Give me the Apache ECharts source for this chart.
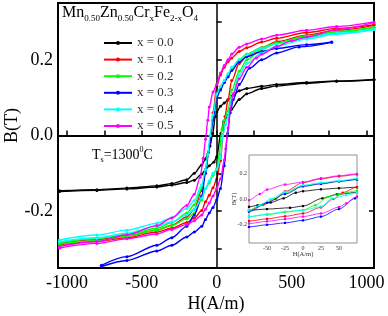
<!DOCTYPE html>
<html><head><meta charset="utf-8">
<script src="https://cdn.jsdelivr.net/npm/echarts@6/dist/echarts.min.js"></script>
<style>html,body{margin:0;padding:0;background:#fff}#c{width:388px;height:316px}</style>
</head><body><div id="c"></div>
<script>
// ---- Data (H in A/m, B in T) ----
const names = ['x = 0.0','x = 0.1','x = 0.2','x = 0.3','x = 0.4','x = 0.5'];
const colors = ['#000000','#ff0000','#00ff00','#0000ff','#00ffff','#ff00ff'];

// x = 0.0 (black)
const up00 = [[-1050,-0.146],[-800,-0.143],[-600,-0.139],[-400,-0.133],[-300,-0.127],[-200,-0.117],[-150,-0.1],[-100,-0.078],[-75,-0.062],[-63,-0.05],[-45,-0.028],[-27,0.005],[-10,0.05],[0,0.062],[25,0.077],[50,0.086],[75,0.094],[100,0.103],[150,0.118],[200,0.124],[300,0.13],[400,0.135],[600,0.14],[800,0.144],[1050,0.148]];
const lo00 = [[-1050,-0.148],[-800,-0.145],[-600,-0.141],[-400,-0.136],[-300,-0.131],[-200,-0.124],[-150,-0.118],[-100,-0.102],[-75,-0.09],[-50,-0.08],[-18,-0.07],[0,-0.056],[27,0.005],[47,0.037],[75,0.052],[100,0.07],[150,0.095],[200,0.11],[300,0.124],[400,0.131],[600,0.138],[800,0.143],[1050,0.147]];
// x = 0.1 (red)
const up01 = [[-1050,-0.285],[-800,-0.275],[-600,-0.265],[-400,-0.25],[-300,-0.237],[-200,-0.215],[-150,-0.195],[-100,-0.145],[-75,-0.09],[-55,-0.045],[-38,0.0],[-25,0.06],[0,0.13],[25,0.16],[50,0.18],[75,0.195],[100,0.205],[150,0.222],[200,0.232],[300,0.247],[400,0.257],[600,0.272],[800,0.283],[1050,0.293]];
const lo01 = [[-1050,-0.289],[-800,-0.28],[-600,-0.27],[-400,-0.255],[-300,-0.245],[-200,-0.23],[-150,-0.218],[-100,-0.198],[-75,-0.175],[-50,-0.158],[-25,-0.138],[0,-0.115],[25,-0.067],[42,0.0],[55,0.05],[75,0.095],[100,0.145],[150,0.19],[200,0.21],[300,0.232],[400,0.248],[600,0.265],[800,0.278],[1050,0.291]];
// x = 0.2 (green)
const up02 = [[-1050,-0.283],[-800,-0.272],[-600,-0.262],[-400,-0.245],[-300,-0.23],[-200,-0.205],[-150,-0.183],[-100,-0.14],[-75,-0.09],[-60,-0.05],[-40,0.0],[-25,0.05],[0,0.105],[25,0.125],[50,0.14],[75,0.155],[100,0.175],[150,0.2],[200,0.215],[300,0.232],[400,0.245],[600,0.263],[800,0.275],[1050,0.286]];
const lo02 = [[-1050,-0.287],[-800,-0.278],[-600,-0.266],[-400,-0.25],[-300,-0.238],[-200,-0.22],[-150,-0.205],[-100,-0.17],[-75,-0.14],[-50,-0.125],[-25,-0.105],[0,-0.088],[17,-0.05],[34,0.015],[50,0.04],[75,0.065],[100,0.12],[150,0.17],[200,0.2],[300,0.228],[400,0.243],[600,0.262],[800,0.273],[1050,0.285]];
// x = 0.3 (blue)
const up03 = [[-770,-0.343],[-600,-0.32],[-400,-0.29],[-300,-0.27],[-200,-0.24],[-150,-0.21],[-100,-0.16],[-75,-0.1],[-50,-0.03],[-25,0.04],[0,0.1],[25,0.12],[50,0.14],[75,0.155],[100,0.172],[150,0.195],[200,0.208],[300,0.222],[400,0.23],[600,0.24],[768,0.247]];
const lo03 = [[-770,-0.346],[-600,-0.33],[-400,-0.305],[-300,-0.29],[-200,-0.268],[-150,-0.255],[-100,-0.24],[-75,-0.222],[-50,-0.205],[-25,-0.19],[0,-0.17],[25,-0.14],[50,-0.08],[72,0.005],[90,0.06],[110,0.095],[150,0.135],[220,0.178],[300,0.2],[400,0.218],[550,0.234],[768,0.246]];
// x = 0.4 (cyan)
const up04 = [[-1050,-0.276],[-800,-0.263],[-600,-0.25],[-400,-0.232],[-300,-0.217],[-200,-0.193],[-150,-0.172],[-100,-0.13],[-75,-0.09],[-60,-0.05],[-45,0.0],[-25,0.055],[0,0.11],[25,0.13],[50,0.145],[75,0.163],[100,0.18],[150,0.2],[200,0.213],[300,0.23],[400,0.242],[600,0.258],[800,0.27],[1050,0.28]];
const lo04 = [[-1050,-0.28],[-800,-0.27],[-600,-0.258],[-400,-0.24],[-300,-0.228],[-200,-0.21],[-150,-0.195],[-100,-0.165],[-75,-0.14],[-50,-0.12],[-25,-0.1],[0,-0.09],[25,-0.06],[40,0.0],[60,0.03],[75,0.05],[100,0.1],[150,0.16],[200,0.19],[300,0.218],[400,0.236],[600,0.255],[800,0.268],[1050,0.28]];
// x = 0.5 (magenta)
const up05 = [[-1050,-0.293],[-800,-0.28],[-600,-0.262],[-400,-0.238],[-300,-0.218],[-200,-0.185],[-150,-0.155],[-110,-0.11],[-90,-0.06],[-75,-0.01],[-60,0.04],[-50,0.075],[-25,0.115],[0,0.135],[25,0.165],[50,0.185],[75,0.2],[100,0.215],[150,0.233],[200,0.242],[300,0.255],[400,0.265],[600,0.278],[800,0.288],[1050,0.3]];
const lo05 = [[-1050,-0.297],[-800,-0.285],[-600,-0.273],[-400,-0.26],[-300,-0.248],[-200,-0.235],[-150,-0.225],[-100,-0.21],[-75,-0.195],[-50,-0.178],[-25,-0.16],[0,-0.14],[25,-0.115],[50,-0.065],[60,-0.035],[75,0.02],[90,0.07],[110,0.11],[150,0.15],[200,0.18],[265,0.205],[300,0.215],[400,0.235],[500,0.25],[600,0.26],[800,0.28],[1050,0.298]];

const loops = [[up00,lo00],[up01,lo01],[up02,lo02],[up03,lo03],[up04,lo04],[up05,lo05]];

// tick values
const mainXTicks = [-1000,-750,-500,-250,0,250,500,750,1000];
const mainXLabels = [-1000,-500,0,500,1000];
const mainYTicks = [-0.3,-0.2,-0.1,0,0.1,0.2,0.3];
const mainYLabels = [-0.2,0,0.2];
const insetXLabels = [-50,-25,0,25,50];
const insetYTicks = [-0.3,-0.2,-0.1,0,0.1,0.2,0.3];
const insetYLabels = [-0.2,0,0.2];

const FONT = 'Liberation Serif';
const chart = echarts.init(document.getElementById('c'), null, {renderer:'canvas'});

const series = [];
loops.forEach((lp, i) => {
  lp.forEach((br, j) => {
    const s = {
      type:'line', name:names[i], xAxisIndex:0, yAxisIndex:0, data:br,
      smooth:0.3, smoothMonotone:'x', symbol:'circle', symbolSize:3,
      lineStyle:{width:1.4, color:colors[i]}, itemStyle:{color:colors[i]},
      z: 3 + i, animation:false, silent:true
    };
    if (i === 0 && j === 0) {
      s.markLine = {silent:true, symbol:['none','none'], label:{show:false}, animation:false,
        data:[{yAxis:0, lineStyle:{color:'#000', width:2, type:'solid'}},
              {xAxis:0, lineStyle:{color:'#000', width:1.5, type:'solid'}}]};
    }
    series.push(s);
  });
});
loops.forEach((lp, i) => {
  lp.forEach((br, j) => {
    const s = {
      type:'line', name:names[i], xAxisIndex:1, yAxisIndex:2, data:br,
      smooth:0.3, smoothMonotone:'x', symbol:'rect', symbolSize:2.2, clip:true,
      lineStyle:{width:0.8, color:colors[i]}, itemStyle:{color:colors[i]},
      z: 13 + i, animation:false, silent:true
    };
    if (i === 0 && j === 0) {
      s.markLine = {silent:true, symbol:['none','none'], label:{show:false}, animation:false,
        data:[{yAxis:0, lineStyle:{color:'#777', width:0.8, type:'solid'}},
              {xAxis:0, lineStyle:{color:'#777', width:0.8, type:'solid'}}]};
    }
    series.push(s);
  });
});

const option = {
  backgroundColor:'#fff',
  animation:false,
  title:[
    {left:62, top:3, padding:0,
     text:'{m|Mn}{s|0.50}{m|Zn}{s|0.50}{m|Cr}{s|x}{m|Fe}{s|2-x}{m|O}{s|4}',
     textStyle:{fontWeight:'normal', rich:{
       m:{fontFamily:FONT, fontSize:16, fontWeight:'normal', color:'#000', lineHeight:20},
       s:{fontFamily:FONT, fontSize:9, fontWeight:'normal', color:'#000', lineHeight:4, verticalAlign:'bottom'}
     }}},
    {left:92, top:146, padding:0,
     text:'{m|T}{s|s}{m|=1300}{p|0}{m|C}',
     textStyle:{fontWeight:'normal', rich:{
       m:{fontFamily:FONT, fontSize:14, fontWeight:'normal', color:'#000', lineHeight:18},
       s:{fontFamily:FONT, fontSize:8, fontWeight:'normal', color:'#000', lineHeight:4, verticalAlign:'bottom'},
       p:{fontFamily:FONT, fontSize:8, fontWeight:'normal', color:'#000', lineHeight:8, verticalAlign:'top'}
     }}}
  ],
  legend:[
    {data:names, orient:'vertical', left:98, top:31, itemWidth:28, itemHeight:5, itemGap:2.6,
     textStyle:{fontFamily:FONT, fontSize:13, fontWeight:'normal', color:'#333', lineHeight:14}, selectedMode:false},
    {data:names, orient:'vertical', left:251, top:157, itemWidth:7, itemHeight:2, itemGap:0.2,
     textStyle:{fontFamily:FONT, fontSize:4.5, color:'#333', lineHeight:4.8}, selectedMode:false}
  ],
  grid:[
    {left:58, top:3, width:316, height:265, show:true, borderColor:'#000', borderWidth:2, backgroundColor:'transparent', outerBoundsMode:'none', containLabel:false},
    {left:249, top:155, width:108, height:88, show:true, borderColor:'#777', borderWidth:0.8, backgroundColor:'#fff', z:10, outerBoundsMode:'none', containLabel:false}
  ],
  xAxis:[
    {gridIndex:0, type:'value', min:-1060, max:1050,
     name:'H(A/m)', nameLocation:'middle', nameGap:27, nameMoveOverlap:false,
     nameTextStyle:{fontFamily:FONT, fontSize:18, color:'#000'},
     axisLine:{show:false}, splitLine:{show:false},
     axisTick:{inside:true, length:5, lineStyle:{color:'#000', width:1.5}, customValues:mainXTicks},
     axisLabel:{fontFamily:FONT, fontSize:18, color:'#000', margin:6, customValues:mainXLabels, formatter:v => String(v)}},
    {gridIndex:1, type:'value', min:-75, max:75, interval:25,
     name:'H(A/m)', nameLocation:'middle', nameGap:8, nameMoveOverlap:false,
     nameTextStyle:{fontFamily:FONT, fontSize:6.5, color:'#333'},
     axisLine:{show:false}, splitLine:{show:false},
     axisTick:{inside:true, length:2, lineStyle:{color:'#777', width:0.6}, customValues:insetXLabels},
     axisLabel:{fontFamily:FONT, fontSize:6, color:'#333', margin:2, customValues:insetXLabels, formatter:v => String(v)}}
  ],
  yAxis:[
    {gridIndex:0, type:'value', min:-0.35, max:0.35,
     name:'B(T)', nameLocation:'middle', nameGap:37, nameMoveOverlap:false,
     nameTextStyle:{fontFamily:FONT, fontSize:18, color:'#000', padding:[0,0,0,20]},
     axisLine:{show:false}, splitLine:{show:false},
     axisTick:{inside:true, length:5, lineStyle:{color:'#000', width:1.5}, customValues:mainYTicks},
     axisLabel:{fontFamily:FONT, fontSize:18, color:'#000', margin:5, customValues:mainYLabels,
       formatter:v => v.toFixed(1)}},
    {gridIndex:0, type:'value', min:-0.35, max:0.35, position:'right',
     axisLine:{show:false}, splitLine:{show:false},
     axisTick:{inside:true, length:5, lineStyle:{color:'#000', width:1.5}, customValues:mainYLabels},
     axisLabel:{show:false}},
    {gridIndex:1, type:'value', min:-0.35, max:0.35,
     name:'B(T)', nameLocation:'middle', nameGap:11, nameMoveOverlap:false,
     nameTextStyle:{fontFamily:FONT, fontSize:6.5, color:'#333'},
     axisLine:{show:false}, splitLine:{show:false},
     axisTick:{inside:true, length:2, lineStyle:{color:'#777', width:0.6}, customValues:insetYTicks},
     axisLabel:{fontFamily:FONT, fontSize:6, color:'#333', margin:2, customValues:insetYLabels,
       formatter:v => v.toFixed(1)}}
  ],
  series:series
};
chart.setOption(option);
</script></body></html>
